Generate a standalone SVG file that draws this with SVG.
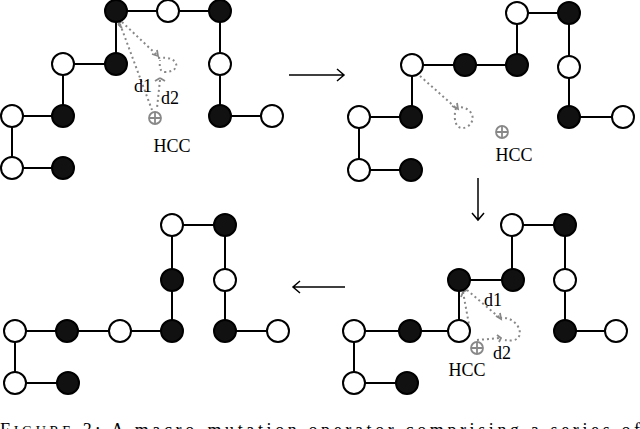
<svg xmlns="http://www.w3.org/2000/svg" width="640" height="429" viewBox="0 0 640 429">
<style>
.e{stroke:#000;stroke-width:2;fill:none}
.w{fill:#fff;stroke:#000;stroke-width:2}
.b{fill:#111;stroke:#000;stroke-width:2}
.d{stroke:#888;stroke-width:2;stroke-dasharray:2 3;fill:none}
.h{fill:none;stroke:#888;stroke-width:1.8}
.t{font-family:"Liberation Serif",serif;font-size:18px;fill:#000}
.a{stroke:#000;stroke-width:1.5;fill:none}
</style>
<rect width="640" height="429" fill="#fff"/>
<g id="connectors">
<path class="e" d="M116,11H220V116H272M116,11V64H63V116H12V168H63"/>
<path class="e" d="M569,13H517V65H412V117H359V170H411M569,13V117H623"/>
<path class="e" d="M565,225H512V280H459V331H354V383H407M565,225V331H616"/>
<path class="e" d="M172,331V225H225V331H278M15,331H172M15,331V383H68"/>
<path class="a" d="M289,75H344M337,69L344,75L337,81M478,178V220M472,213L478,220L484,213M345,287H293M300,281L293,287L300,293"/>
<path class="d" d="M120,24L152,110M122,22L158,56M160,80L157,108M158,58C180,55,182,72,165,72C158,72,160,62,160,60"/>
<path class="h" d="M118,24l3,-2M118,24l4,4M152,54l6,2l-1,-6M160,78l5,3M160,78l-5,3"/>
<path class="d" d="M420,76L456,108M456,108C468,104,480,118,467,127C455,132,453,118,456,108"/>
<path class="h" d="M452,106l6,3l-1,-6"/>
<path class="d" d="M463,292L470,330M467,290L500,318M500,318C520,315,530,345,505,340M477,340L500,338"/>
<path class="h" d="M463,292l4,-2M463,292l-2,5M496,316l5,3l-1,-6M497,335l4,3l-2,4"/>
</g>
<g id="hcc1"><circle class="h" cx="155" cy="118" r="6"/><path class="h" d="M149,118h12M155,112v12"/><text class="t" x="172" y="152" text-anchor="middle">HCC</text><text class="t" x="143" y="92" text-anchor="middle">d1</text><text class="t" x="170" y="104" text-anchor="middle">d2</text></g>
<g id="hcc2"><circle class="h" cx="502" cy="132" r="6"/><path class="h" d="M496,132h12M502,126v12"/><text class="t" x="514" y="161" text-anchor="middle">HCC</text></g>
<g id="hcc3"><circle class="h" cx="477" cy="348" r="6"/><path class="h" d="M471,348h12M477,342v12"/><text class="t" x="467" y="376" text-anchor="middle">HCC</text><text class="t" x="493" y="306" text-anchor="middle">d1</text><text class="t" x="502" y="359" text-anchor="middle">d2</text></g>
<g id="p1">
<circle class="b" cx="116" cy="11" r="11"/><circle class="w" cx="168" cy="11" r="11"/><circle class="b" cx="220" cy="11" r="11"/>
<circle class="w" cx="63" cy="64" r="11"/><circle class="b" cx="116" cy="64" r="11"/><circle class="w" cx="220" cy="64" r="11"/>
<circle class="w" cx="12" cy="116" r="11"/><circle class="b" cx="63" cy="116" r="11"/><circle class="b" cx="220" cy="116" r="11"/><circle class="w" cx="272" cy="116" r="11"/>
<circle class="w" cx="12" cy="168" r="11"/><circle class="b" cx="63" cy="168" r="11"/>
</g>
<g id="p2">
<circle class="w" cx="517" cy="13" r="11"/><circle class="b" cx="569" cy="13" r="11"/>
<circle class="w" cx="412" cy="65" r="11"/><circle class="b" cx="465" cy="65" r="11"/><circle class="b" cx="517" cy="65" r="11"/><circle class="w" cx="569" cy="67" r="11"/>
<circle class="w" cx="359" cy="117" r="11"/><circle class="b" cx="411" cy="117" r="11"/><circle class="b" cx="569" cy="117" r="11"/><circle class="w" cx="623" cy="117" r="11"/>
<circle class="w" cx="359" cy="170" r="11"/><circle class="b" cx="411" cy="170" r="11"/>
</g>
<g id="p3">
<circle class="w" cx="512" cy="225" r="11"/><circle class="b" cx="565" cy="225" r="11"/>
<circle class="b" cx="459" cy="280" r="11"/><circle class="b" cx="513" cy="280" r="11"/><circle class="w" cx="565" cy="280" r="11"/>
<circle class="w" cx="354" cy="331" r="11"/><circle class="b" cx="410" cy="331" r="11"/><circle class="w" cx="459" cy="331" r="11"/><circle class="b" cx="565" cy="331" r="11"/><circle class="w" cx="616" cy="331" r="11"/>
<circle class="w" cx="354" cy="383" r="11"/><circle class="b" cx="407" cy="383" r="11"/>
</g>
<g id="p4">
<circle class="w" cx="172" cy="225" r="11"/><circle class="b" cx="225" cy="225" r="11"/>
<circle class="b" cx="172" cy="280" r="11"/><circle class="w" cx="225" cy="280" r="11"/>
<circle class="w" cx="15" cy="331" r="11"/><circle class="b" cx="67" cy="331" r="11"/><circle class="w" cx="120" cy="331" r="11"/><circle class="b" cx="172" cy="331" r="11"/><circle class="b" cx="225" cy="331" r="11"/><circle class="w" cx="278" cy="331" r="11"/>
<circle class="w" cx="15" cy="383" r="11"/><circle class="b" cx="68" cy="383" r="11"/>
</g>
<text class="t" x="0" y="436" font-size="18" textLength="640" lengthAdjust="spacing">F<tspan font-size="14">IGURE</tspan> 3: A macro-mutation operator comprising a series of</text>
</svg>
